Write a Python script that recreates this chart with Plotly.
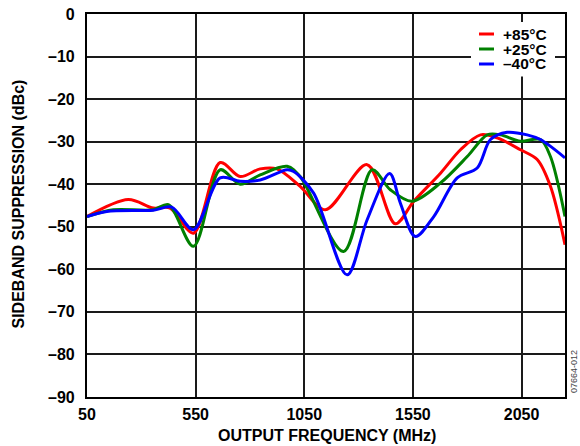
import plotly.graph_objects as go

# Data (frequency in MHz, sideband suppression in dBc)
freq_85 = [50, 240, 355, 432, 540, 663, 755, 847, 924, 1031, 1147, 1339, 1469, 1554, 1677, 1769, 1861, 1938, 2045, 2122, 2183, 2250]
supp_85 = [-47.6, -43.6, -45.6, -45.6, -51.5, -34.9, -38.2, -36.4, -36.4, -40.5, -46.0, -35.4, -49.3, -44.0, -37.4, -31.9, -28.4, -29.1, -31.9, -34.2, -40.5, -54.2]

freq_25 = [50, 171, 355, 425, 540, 663, 755, 847, 971, 1031, 1231, 1362, 1446, 1546, 1677, 1800, 1892, 1953, 2045, 2137, 2183, 2250]
supp_25 = [-47.6, -46.0, -46.0, -44.8, -54.6, -36.6, -40.0, -37.8, -35.8, -38.2, -55.8, -36.6, -41.3, -44.0, -39.7, -33.5, -28.4, -28.4, -29.9, -29.5, -33.5, -47.6]

freq_m40 = [50, 141, 355, 440, 540, 663, 755, 847, 971, 1001, 1093, 1247, 1339, 1443, 1492, 1561, 1646, 1754, 1846, 1907, 1984, 2076, 2137, 2250]
supp_m40 = [-47.6, -46.4, -46.1, -45.4, -50.7, -38.5, -39.3, -39.0, -36.6, -37.0, -42.1, -61.3, -48.4, -37.5, -44.4, -52.3, -47.6, -38.5, -36.2, -29.5, -27.8, -28.4, -29.5, -33.8]

series_names = ["+85°C", "+25°C", "–40°C"]
series_colors = ["#ff0000", "#008000", "#0000ff"]

x_ticks = [50, 550, 1050, 1550, 2050]
y_ticks = [0, -10, -20, -30, -40, -50, -60, -70, -80, -90]
y_ticktext = ["0" if v == 0 else "–" + str(-v) for v in y_ticks]

FONT = "Liberation Sans, Arial, sans-serif"

fig = go.Figure()
for fx, sy, name, col in zip([freq_85, freq_25, freq_m40], [supp_85, supp_25, supp_m40], series_names, series_colors):
    fig.add_trace(go.Scatter(x=fx, y=sy, mode="lines", name=name,
                             line=dict(color=col, width=3, shape="spline", smoothing=0.9),
                             showlegend=False, hoverinfo="skip"))

W, H = 580, 446
L, R, T, B = 87, 15, 14, 49
pw, ph = W - L - R, H - T - B

def px(x):
    return (x - L) / pw

def py(y):
    return (H - B - y) / ph

shapes = []
annotations = []
# legend box
shapes.append(dict(type="rect", xref="paper", yref="paper", x0=px(471), x1=px(555), y0=py(76.5), y1=py(22),
                   fillcolor="white", line=dict(width=0), layer="above"))
for i, (name, col) in enumerate(zip(series_names, series_colors)):
    yc = 34 + 15 * i
    shapes.append(dict(type="line", xref="paper", yref="paper", x0=px(479), x1=px(494), y0=py(yc), y1=py(yc),
                       line=dict(color=col, width=3), layer="above"))
    annotations.append(dict(xref="paper", yref="paper", x=px(501), y=py(yc), text="<b>" + name + "</b>", showarrow=False,
                            xanchor="left", yanchor="middle", font=dict(family=FONT, size=15.5, color="black")))

annotations.append(dict(xref="paper", yref="paper", x=px(327), y=py(435.5), text="<b>OUTPUT FREQUENCY (MHz)</b>",
                        showarrow=False, xanchor="center", yanchor="middle",
                        font=dict(family=FONT, size=16, color="black")))
annotations.append(dict(xref="paper", yref="paper", x=px(17.5), y=py(204), text="<b>SIDEBAND SUPPRESSION (dBc)</b>",
                        showarrow=False, xanchor="center", yanchor="middle", textangle=-90,
                        font=dict(family=FONT, size=16, color="black")))
annotations.append(dict(xref="paper", yref="paper", x=px(574), y=py(372), text="07664-012",
                        showarrow=False, xanchor="center", yanchor="middle", textangle=-90,
                        font=dict(family=FONT, size=9, color="#444")))

fig.update_layout(
    width=W, height=H,
    margin=dict(l=L, r=R, t=T, b=B, autoexpand=False),
    paper_bgcolor="white", plot_bgcolor="white",
    font=dict(family=FONT, size=16, color="black"),
    shapes=shapes, annotations=annotations,
    showlegend=False,
)
fig.update_xaxes(range=[50, 2250], tickvals=x_ticks, ticktext=["<b>%d</b>" % v for v in x_ticks],
                 showgrid=True, gridcolor="#1a1a1a", gridwidth=1.8, zeroline=False,
                 showline=True, linecolor="black", linewidth=2.2, mirror=True, automargin=False,
                 ticks="", ticklabelstandoff=2, tickfont=dict(family=FONT, size=16, color="black"))
fig.update_yaxes(range=[-90, 0], tickvals=y_ticks, ticktext=["<b>%s</b>" % t for t in y_ticktext],
                 showgrid=True, gridcolor="#1a1a1a", gridwidth=1.8, zeroline=False,
                 showline=True, linecolor="black", linewidth=2.2, mirror=True, automargin=False,
                 ticks="", ticklabelstandoff=7, tickfont=dict(family=FONT, size=16, color="black"))

fig.write_html("out.html", config={"displayModeBar": False},
               post_script="document.body.style.margin='0px';document.body.style.padding='0px';")
